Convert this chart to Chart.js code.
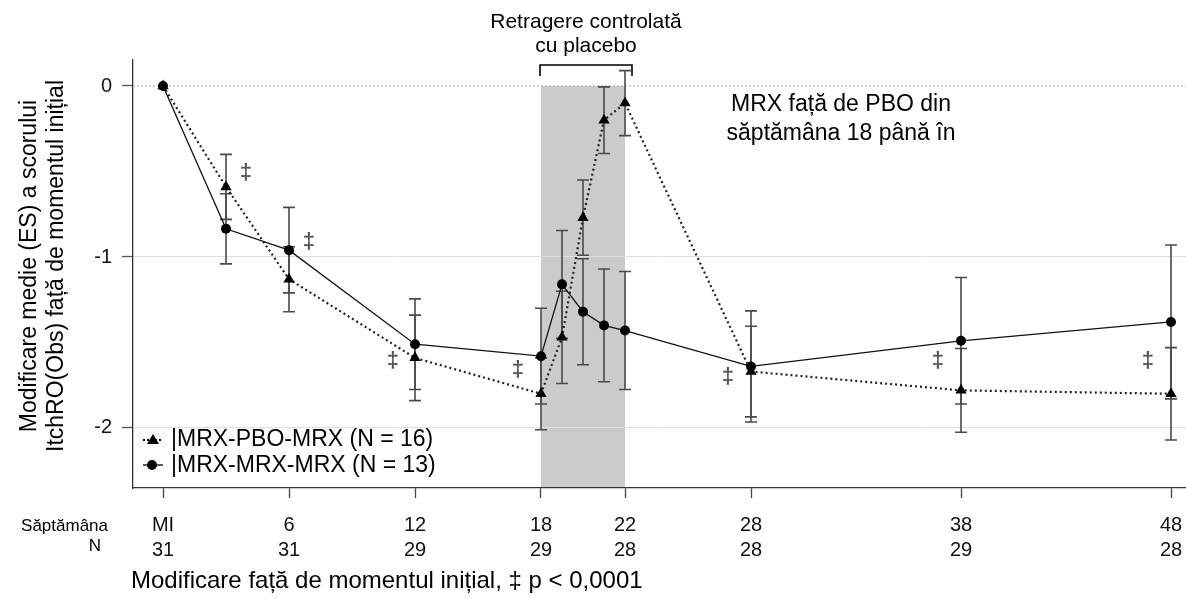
<!DOCTYPE html>
<html>
<head>
<meta charset="utf-8">
<script src="https://cdn.jsdelivr.net/npm/chart.js@4/dist/chart.umd.min.js"></script>
<style>
  body { margin: 0; background: #fff; }
  #wrap { width: 1186px; height: 598px; }
</style>
</head>
<body>
<div id="wrap"><canvas id="chart" width="1186" height="598"></canvas></div>
<script>
//weeks where values were measured
const weeks = [0, 3, 6, 12, 18, 19, 20, 21, 22, 28, 38, 48];
//MRX-PBO-MRX group (triangles, dotted line)
const pboMean = [0, -0.59, -1.13, -1.59, -1.8, -1.47, -0.77, -0.2, -0.1, -1.67, -1.78, -1.8];
const pboSE = [0, 0.19, 0.19, 0.25, 0.21, 0.27, 0.22, 0.195, 0.19, 0.265, 0.245, 0.27];
//MRX-MRX-MRX group (circles, solid line)
const mrxMean = [0, -0.835, -0.96, -1.51, -1.58, -1.16, -1.32, -1.4, -1.43, -1.64, -1.49, -1.38];
const mrxSE = [0, 0.205, 0.25, 0.265, 0.28, 0.315, 0.31, 0.33, 0.345, 0.325, 0.37, 0.45];
//x axis ticks: week label and N under it
const tickWeeks = [0, 6, 12, 18, 22, 28, 38, 48];
const weekLabels = ["MI", "6", "12", "18", "22", "28", "38", "48"];
const nLabels = ["31", "31", "29", "29", "28", "28", "29", "28"];
const yTicks = [-2, -1, 0];
//placebo withdrawal window
const withdrawal = [18, 22];
//significance marks (‡) next to the points
const sigWeeks = [3.95, 6.95, 10.95, 16.9, 26.9, 36.9, 46.9];
const sigValues = [-0.51, -0.91, -1.61, -1.66, -1.7, -1.61, -1.61];

const seriesNames = ["MRX-PBO-MRX (N = 16)", "MRX-MRX-MRX (N = 13)"];

const font = "'Liberation Sans', Arial, sans-serif";

const toPoints = (arr) => weeks.map((w, i) => ({ x: w, y: arr[i] }));

//plugin for shading, error bars and all the extra text
const extras = {
  id: "extras",
  beforeDraw(chart) {
    const { ctx, chartArea, scales } = chart;
    const x = scales.x, y = scales.y;
    //grey box for placebo withdrawal
    const x1 = x.getPixelForValue(withdrawal[0]);
    const x2 = x.getPixelForValue(withdrawal[1]);
    const top = y.getPixelForValue(0);
    ctx.save();
    ctx.fillStyle = "#cbcbcb";
    ctx.fillRect(x1, top, x2 - x1, chartArea.bottom - top);
    ctx.restore();
  },
  beforeDatasetsDraw(chart) {
    const { ctx, chartArea, scales } = chart;
    const x = scales.x, y = scales.y;
    ctx.save();
    //dotted zero line
    const y0 = y.getPixelForValue(0);
    ctx.strokeStyle = "#aaaaaa";
    ctx.lineWidth = 1;
    ctx.setLineDash([2, 2]);
    ctx.beginPath();
    ctx.moveTo(chartArea.left, y0);
    ctx.lineTo(chartArea.right, y0);
    ctx.stroke();
    ctx.setLineDash([]);

    //error bars
    ctx.strokeStyle = "#4a4a4a";
    ctx.lineWidth = 1.6;
    const drawBars = (mean, se) => {
      weeks.forEach((w, i) => {
        if (!se[i]) return;
        const px = x.getPixelForValue(w);
        const hi = y.getPixelForValue(mean[i] + se[i]);
        const lo = y.getPixelForValue(mean[i] - se[i]);
        ctx.beginPath();
        ctx.moveTo(px, hi);
        ctx.lineTo(px, lo);
        ctx.moveTo(px - 6, hi);
        ctx.lineTo(px + 6, hi);
        ctx.moveTo(px - 6, lo);
        ctx.lineTo(px + 6, lo);
        ctx.stroke();
      });
    };
    drawBars(pboMean, pboSE);
    drawBars(mrxMean, mrxSE);

    //‡ marks
    ctx.fillStyle = "#555";
    ctx.font = "bold 22px " + font;
    ctx.textAlign = "center";
    ctx.textBaseline = "middle";
    sigWeeks.forEach((w, i) => {
      ctx.fillText("‡", x.getPixelForValue(w), y.getPixelForValue(sigValues[i]));
    });
    ctx.restore();
  },
  afterDraw(chart) {
    const { ctx, scales } = chart;
    const x = scales.x;
    ctx.save();
    ctx.fillStyle = "#000";
    ctx.strokeStyle = "#000";
    ctx.textAlign = "center";
    ctx.textBaseline = "middle";

    //bracket over the withdrawal window
    const bx1 = x.getPixelForValue(withdrawal[0]) - 1;
    const bx2 = x.getPixelForValue(withdrawal[1]) + 7;
    ctx.lineWidth = 1.6;
    ctx.beginPath();
    ctx.moveTo(bx1, 76);
    ctx.lineTo(bx1, 65);
    ctx.lineTo(bx2, 65);
    ctx.lineTo(bx2, 76);
    ctx.stroke();
    ctx.font = "21px " + font;
    ctx.fillText("Retragere controlată", (bx1 + bx2) / 2, 22);
    ctx.fillText("cu placebo", (bx1 + bx2) / 2, 46);

    //note on the right
    ctx.font = "23px " + font;
    ctx.fillText("MRX față de PBO din", 841, 105);
    ctx.fillText("săptămâna 18 până în", 841, 134);

    //legend
    ctx.lineWidth = 2;
    ctx.setLineDash([2, 2]);
    ctx.beginPath();
    ctx.moveTo(143, 440);
    ctx.lineTo(163, 440);
    ctx.stroke();
    ctx.setLineDash([]);
    ctx.beginPath();
    ctx.moveTo(153, 434);
    ctx.lineTo(159, 444);
    ctx.lineTo(147, 444);
    ctx.closePath();
    ctx.fill();
    ctx.lineWidth = 1.3;
    ctx.beginPath();
    ctx.moveTo(143, 465);
    ctx.lineTo(163, 465);
    ctx.stroke();
    ctx.beginPath();
    ctx.arc(152, 465, 5, 0, Math.PI * 2);
    ctx.fill();
    ctx.textAlign = "left";
    ctx.font = "23px " + font;
    ctx.fillText("|" + seriesNames[0], 171, 440);
    ctx.fillText("|" + seriesNames[1], 171, 466);

    //row captions of the x axis
    ctx.textAlign = "right";
    ctx.font = "17px " + font;
    ctx.fillText("Săptămâna", 108, 526);
    ctx.fillText("N", 101, 546);

    //x axis title
    ctx.textAlign = "left";
    ctx.font = "24px " + font;
    ctx.fillText("Modificare față de momentul inițial, ‡ p < 0,0001", 131, 581);

    //y axis title
    ctx.textAlign = "center";
    ctx.font = "23px " + font;
    ctx.translate(30, 266);
    ctx.rotate(-Math.PI / 2);
    ctx.fillText("Modificare medie (ES) a scorului", 0, 0);
    ctx.fillText("ItchRO(Obs) față de momentul inițial", 0, 27);
    ctx.restore();
  },
};

const myChart = new Chart(document.getElementById("chart"), {
  type: "line",
  plugins: [extras],
  data: {
    datasets: [
      {
        label: seriesNames[0],
        data: toPoints(pboMean),
        borderColor: "#222",
        borderWidth: 2.2,
        borderDash: [2, 3],
        pointStyle: "triangle",
        pointRadius: 6.5,
        pointBackgroundColor: "#000",
        pointBorderColor: "#000",
        pointBorderWidth: 0,
      },
      {
        label: seriesNames[1],
        data: toPoints(mrxMean),
        borderColor: "#111",
        borderWidth: 1.3,
        pointStyle: "circle",
        pointRadius: 5,
        pointBackgroundColor: "#000",
        pointBorderColor: "#000",
        pointBorderWidth: 0,
      },
    ],
  },
  options: {
    responsive: false,
    animation: false,
    layout: { autoPadding: false, padding: { top: 60, right: 0, left: 0, bottom: 0 } },
    plugins: {
      legend: { display: false },
      tooltip: { enabled: false },
    },
    scales: {
      x: {
        type: "linear",
        min: -30 / 21,
        max: 48 + 15 / 21,
        afterFit: (scale) => {
          scale.height = 110;
          scale.paddingLeft = 0;
          scale.paddingRight = 0;
        },
        afterBuildTicks: (scale) => { scale.ticks = tickWeeks.map((v) => ({ value: v })); },
        grid: { drawOnChartArea: false, tickLength: 10, tickColor: "#444", tickWidth: 1.3 },
        border: { color: "#333", width: 1.3 },
        ticks: {
          autoSkip: false,
          maxRotation: 0,
          padding: 15,
          color: "#111",
          font: { family: font, size: 20, lineHeight: 1.25 },
          callback: (v) => {
            const i = tickWeeks.indexOf(v);
            return [weekLabels[i], nLabels[i]];
          },
        },
      },
      y: {
        min: -2.351,
        max: 0.152,
        afterFit: (scale) => {
          scale.width = 133;
          scale.paddingTop = 0;
          scale.paddingBottom = 0;
        },
        afterBuildTicks: (scale) => { scale.ticks = yTicks.map((v) => ({ value: v })); },
        grid: {
          color: (c) => (c.tick && c.tick.value === 0 ? "rgba(0,0,0,0)" : "#e0e0e0"),
          tickLength: 11,
          tickColor: "#555",
          tickWidth: 1.3,
        },
        border: { color: "#333", width: 1.3 },
        ticks: {
          padding: 10,
          color: "#111",
          font: { family: font, size: 20 },
          callback: (v) => String(v),
        },
      },
    },
  },
});
</script>
</body>
</html>
